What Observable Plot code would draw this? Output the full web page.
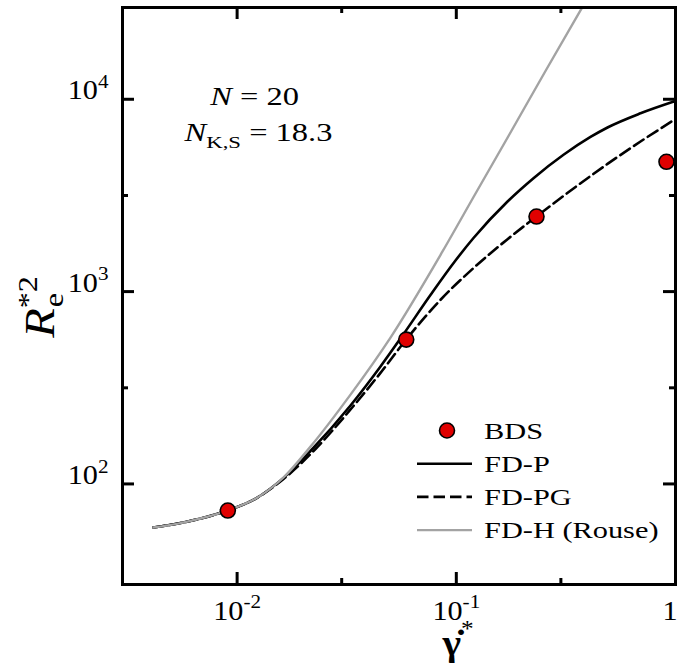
<!DOCTYPE html>
<html>
<head>
<meta charset="utf-8">
<script src="https://cdn.jsdelivr.net/npm/d3@7"></script>
<script src="https://cdn.jsdelivr.net/npm/@observablehq/plot@0.6"></script>
<style>
  body { margin: 0; background: #fff; }
  #chart svg { display: block; }
</style>
</head>
<body>
<div id="chart"></div>
<script>
// Brownian dynamics simulation points
const bdsRate = [0.00907, 0.0591, 0.2322, 0.9096];
const bdsR2 = [72.7, 563, 2457, 4730];

// FD-P (solid)
const fdpRate = [0.00415, 0.00552, 0.00681, 0.00904, 0.01239, 0.01628, 0.02162, 0.03291, 0.0451, 0.05664, 0.07623, 0.09915, 0.1198, 0.1713, 0.2250, 0.3084, 0.4095, 0.4896, 0.6925, 1];
const fdpR2 = [59.4, 62.6, 66.1, 72.7, 85.0, 107.5, 148.3, 255.7, 407.9, 587.6, 960, 1451, 1899, 2940, 3887, 5143, 6366, 7133, 8453, 9795];

// FD-PG (dashed)
const fdpgRate = [0.00415, 0.00552, 0.00681, 0.00904, 0.01239, 0.01628, 0.02278, 0.03291, 0.0451, 0.05906, 0.08472, 0.1198, 0.1713, 0.2322, 0.3425, 0.4896, 0.6925, 1];
const fdpgR2 = [59.4, 62.6, 66.1, 72.7, 85.0, 106.1, 151.9, 243.8, 377.8, 563.4, 906.3, 1326, 1873, 2457, 3436, 4612, 6031, 7889];

// FD-H (Rouse), grey
const fdhRate = [0.00415, 0.00552, 0.00681, 0.00904, 0.01239, 0.01628, 0.02162, 0.03291, 0.0501, 0.08625, 0.1224, 0.1767, 0.2552, 0.3753];
const fdhR2 = [59.4, 62.6, 66.1, 72.7, 85.0, 108, 156.3, 291.3, 577, 1607, 3236, 6718, 14030, 30000];

// Axis ticks and labels
const xMajor = [0.01, 0.1, 1];
const xMajorLabels = ["10^{-2}", "10^{-1}", "1"];
const xMinor = [0.03, 0.3];
const yMajor = [100, 1000, 10000];
const yMajorLabels = ["10^{2}", "10^{3}", "10^{4}"];
const yMinor = [316, 3160];

const legendLabels = ["BDS", "FD-P", "FD-PG", "FD-H (Rouse)"];
const noteLines = ["*{N} = 20", "*{N}_{K,S} = 18.3"];

const W = 677, H = 666;
const mTop = 7, mRight = 2, mBottom = 82, mLeft = 122;
const frameW = W - mLeft - mRight;
const frameH = H - mTop - mBottom;
const majorLen = 12, minorLen = 6;
const FONT = "Liberation Serif";
const RED = "#e00000", GREY = "#a3a3a3";
const DASH = "11.5,5";
const TICK_FS = 27;

const rows = (xs, ys) => xs.map((x, i) => ({x, y: ys[i]}));

const chart = Plot.plot({
  width: W,
  height: H,
  marginTop: mTop,
  marginRight: mRight,
  marginBottom: mBottom,
  marginLeft: mLeft,
  style: {fontFamily: FONT, fontSize: "25px", background: "#fff", color: "#000"},
  x: {type: "log", domain: [0.003, 1], axis: null},
  y: {type: "log", domain: [30, 30000], axis: null},
  marks: [
    Plot.line(rows(fdpRate, fdpR2), {x: "x", y: "y", stroke: "#000", strokeWidth: 2.6, curve: "monotone-x", clip: true}),
    Plot.line(rows(fdpgRate, fdpgR2), {x: "x", y: "y", stroke: "#000", strokeWidth: 2.6, strokeDasharray: DASH, curve: "monotone-x", clip: true}),
    Plot.line(rows(fdhRate, fdhR2), {x: "x", y: "y", stroke: GREY, strokeWidth: 2.4, curve: "monotone-x", clip: true}),
    Plot.dot(rows(bdsRate, bdsR2), {x: "x", y: "y", r: 7.5, fill: RED, stroke: "#000", strokeWidth: 1.6}),
    // inward ticks on all four sides
    Plot.tickX(xMajor, {x: d => d, insetTop: frameH - majorLen, strokeWidth: 3}),
    Plot.tickX(xMajor, {x: d => d, insetBottom: frameH - majorLen, strokeWidth: 3}),
    Plot.tickX(xMinor, {x: d => d, insetTop: frameH - minorLen, strokeWidth: 3}),
    Plot.tickX(xMinor, {x: d => d, insetBottom: frameH - minorLen, strokeWidth: 3}),
    Plot.tickY(yMajor, {y: d => d, insetRight: frameW - majorLen, strokeWidth: 3}),
    Plot.tickY(yMajor, {y: d => d, insetLeft: frameW - majorLen, strokeWidth: 3}),
    Plot.tickY(yMinor, {y: d => d, insetRight: frameW - minorLen, strokeWidth: 3}),
    Plot.tickY(yMinor, {y: d => d, insetLeft: frameW - minorLen, strokeWidth: 3}),
    Plot.frame({stroke: "#000", strokeWidth: 3}),
    // tick labels
    Plot.text(xMajor.slice(0, 2), {x: d => d, frameAnchor: "bottom", dy: 35, textAnchor: "middle", text: (d, i) => xMajorLabels[i], fontFamily: FONT, fontSize: TICK_FS}),
    Plot.text(xMajor.slice(2), {x: d => d, frameAnchor: "bottom", dy: 35, dx: 2, textAnchor: "end", text: (d, i) => xMajorLabels[i + 2], fontFamily: FONT, fontSize: TICK_FS}),
    Plot.text(yMajor, {y: d => d, frameAnchor: "left", dx: -14, textAnchor: "end", text: (d, i) => yMajorLabels[i], fontFamily: FONT, fontSize: TICK_FS}),
    // parameter note
    Plot.text([noteLines[0]], {frameAnchor: "top-left", dx: 132, dy: 97, textAnchor: "middle", text: d => d, fontFamily: FONT, fontSize: 25}),
    Plot.text([noteLines[1]], {frameAnchor: "top-left", dx: 136, dy: 133, textAnchor: "middle", text: d => d, fontFamily: FONT, fontSize: 25})
  ]
});

document.getElementById("chart").appendChild(chart);
const svg = d3.select(chart);

// turn ^{..}, _{..} and *{..} markup into tspans
function richText(el) {
  const src = el.textContent;
  if (!/[\^_*]\{/.test(src)) return false;
  const sel = d3.select(el);
  sel.text(null);
  const re = /([\^_*])\{([^}]*)\}|([^\^_*]+)/g;
  let m, shift = 0;
  while ((m = re.exec(src))) {
    if (m[3] !== undefined || m[1] === "*") {
      const t = sel.append("tspan").text(m[3] !== undefined ? m[3] : m[2]);
      if (m[1] === "*") t.attr("font-style", "italic");
      if (shift) { t.attr("dy", (-shift) + "em"); shift = 0; }
    } else {
      const d = m[1] === "^" ? -0.42 : 0.28;
      sel.append("tspan").attr("font-size", "70%").attr("dy", ((d - shift) / 0.7).toFixed(3) + "em").text(m[2]);
      shift = d;
    }
  }
  return true;
}

// widen a text element horizontally about its anchor point
function widen(el, sx) {
  const x = +el.getAttribute("x") || 0, y = +el.getAttribute("y") || 0;
  el.removeAttribute("x"); el.removeAttribute("y");
  const t = el.getAttribute("transform") || "";
  el.setAttribute("transform", `${t} translate(${x},${y}) scale(${sx},1)`);
}

svg.selectAll("text").each(function() {
  const src = this.textContent;
  const isNote = src.startsWith("*{N}");
  richText(this);
  widen(this, isNote ? 1.3 : 1.12);
});

// y-axis title: R with stacked subscript e and superscript *2
const yTitle = svg.append("text")
  .attr("transform", `translate(54,${mTop + 300}) rotate(-90) scale(1.15,1)`)
  .attr("text-anchor", "middle")
  .attr("font-family", FONT)
  .attr("font-size", 42);
yTitle.append("tspan").attr("font-style", "italic").text("R");
yTitle.append("tspan").attr("font-size", 28).attr("dy", -17).text("*2");
yTitle.append("tspan").attr("font-size", 28).attr("dx", -27).attr("dy", 26).text("e");

// x-axis title
const xTitle = svg.append("text")
  .attr("transform", `translate(${mLeft + 336},${H - 11}) scale(1.1,1)`)
  .attr("text-anchor", "middle")
  .attr("font-family", FONT)
  .attr("font-size", 36);
xTitle.append("tspan").attr("font-weight", "bold").text("\u03B3\u0307");
xTitle.append("tspan").attr("font-size", 23).attr("dy", -19).text("*");

// legend
const lg = svg.append("g").attr("font-family", FONT).attr("font-size", 23).attr("text-anchor", "start");
const lgX = 417, lgY = 430.5, lgStep = 33.2;
legendLabels.forEach((label, i) => {
  const y = lgY + i * lgStep;
  if (i === 0) {
    lg.append("circle").attr("cx", lgX + 30).attr("cy", y).attr("r", 7.5)
      .attr("fill", RED).attr("stroke", "#000").attr("stroke-width", 1.6);
  } else {
    const ln = lg.append("line").attr("x1", lgX).attr("x2", lgX + 55).attr("y1", y).attr("y2", y)
      .attr("stroke", i === 3 ? GREY : "#000").attr("stroke-width", i === 3 ? 2.4 : 2.6);
    if (i === 2) ln.attr("stroke-dasharray", DASH);
  }
  const t = lg.append("text").attr("x", lgX + 67).attr("y", y).attr("dy", "0.35em").text(label).node();
  widen(t, 1.32);
});
</script>
</body>
</html>
